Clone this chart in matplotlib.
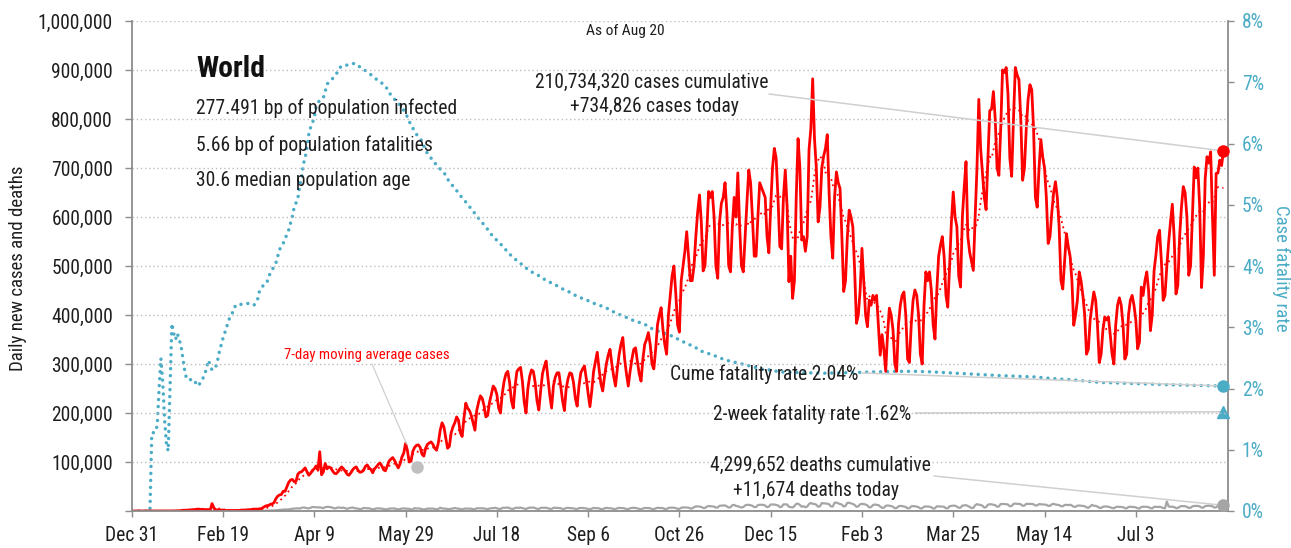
import numpy as np
import pandas as pd
import matplotlib
matplotlib.use("Agg")
import matplotlib.pyplot as plt
from matplotlib import font_manager

# daily new cases (thousands), day 0 = Dec 31 2019, one row per week (Tue..Mon)
cases_k = [
    0.03, 0, 0, 0, 0, 0, 0,
    0, 0, 0, 0, 0.02, 0, 0,
    0, 0, 0.01, 0.02, 0.02, 0.08, 0.08,
    0.15, 0.15, 0.1, 0.3, 0.5, 0.7, 0.8,
    1.5, 1.5, 1.7, 2.0, 2.1, 2.6, 2.8,
    3.2, 3.9, 3.7, 3.2, 3.4, 2.7, 3.0,
    2.5, 2.0, 15.1, 6.5, 2.6, 2.1, 2.0,
    1.9, 1.8, 0.9, 1.1, 1.0, 1.0, 0.6,
    0.9, 1.0, 1.2, 1.1, 1.9, 1.8, 1.9,
    2.4, 2.6, 2.8, 3.5, 3.9, 3.7, 3.9,
    4.5, 4.9, 7.1, 9.5, 11.0, 11.3, 13.8,
    14.6, 17.2, 25.4, 30.3, 32.8, 33.8, 40.3,
    40.1, 49.5, 58.5, 63.2, 64.4, 59.9, 60.5,
    75, 79, 80, 84, 88, 80, 73,
    77, 83, 86, 92, 84, 121, 74,
    80, 97, 86, 90, 88, 82, 77,
    76, 80, 86, 90, 86, 81, 75,
    73, 78, 84, 88, 90, 83, 79,
    80, 83, 91, 94, 88, 85, 78,
    86, 90, 95, 98, 92, 84, 82,
    92, 102, 106, 109, 103, 95, 88,
    96, 110, 118, 138, 124, 100, 102,
    122, 130, 134, 135, 130, 116, 112,
    128, 136, 139, 141, 136, 128, 124,
    140, 165, 180, 172, 150, 128, 132,
    160, 172, 180, 192, 185, 160, 152,
    190, 220, 210, 205, 195, 180, 165,
    205, 222, 235, 230, 215, 192, 195,
    222, 238, 255, 250, 238, 210, 200,
    240, 265, 280, 285, 262, 225, 210,
    255, 285, 290, 293, 265, 222, 200,
    250, 275, 288, 285, 262, 225, 206,
    245, 280, 295, 306, 270, 236, 210,
    255, 273, 282, 282, 255, 225, 205,
    250, 270, 282, 280, 262, 230, 214,
    255, 282, 290, 296, 270, 240, 213,
    245, 285, 305, 324, 290, 260, 245,
    275, 300, 318, 330, 300, 275, 255,
    290, 320, 340, 354, 310, 280, 255,
    285, 310, 330, 333, 305, 280, 265,
    310, 340, 350, 364, 340, 300, 290,
    330, 380, 400, 415, 370, 340, 320,
    400, 440, 480, 500, 445, 380, 365,
    470, 500, 530, 570, 520, 470, 470,
    500, 560, 610, 645, 590, 490, 500,
    570, 652, 640, 652, 600, 500, 475,
    590, 628, 640, 670, 610, 500, 488,
    580, 640, 600, 690, 580, 500, 488,
    560, 630, 696, 670, 600, 520, 520,
    600, 670, 660, 650, 640, 560, 527,
    620, 700, 740, 720, 640, 540, 535,
    640, 696, 620, 468, 520, 434, 470,
    640, 760, 700, 553, 560, 530, 560,
    737, 780, 882, 760, 700, 590, 620,
    700, 724, 740, 768, 650, 560, 516,
    640, 692, 670, 658, 560, 448, 470,
    560, 614, 600, 580, 490, 383, 400,
    450, 536, 470, 400, 376, 430, 420,
    440, 430, 440, 380, 318, 360, 330,
    285, 360, 414, 400, 370, 300, 285,
    380, 420, 440, 447, 400, 310, 303,
    380, 430, 451, 440, 400, 320, 300,
    420, 488, 470, 488, 450, 380, 351,
    450, 520, 542, 560, 520, 440, 416,
    500, 590, 651, 600, 580, 480, 457,
    600, 660, 713, 560, 528, 510, 491,
    600, 700, 840, 740, 689, 640, 615,
    720, 817, 820, 856, 800, 700, 685,
    780, 900, 895, 905, 850, 720, 683,
    800, 905, 890, 880, 800, 675, 700,
    780, 840, 870, 860, 780, 640, 620,
    700, 758, 723, 700, 640, 546, 560,
    610, 650, 672, 640, 580, 470, 453,
    510, 566, 540, 520, 470, 379, 400,
    430, 488, 470, 440, 400, 320, 330,
    390, 420, 447, 430, 380, 303, 320,
    370, 396, 390, 396, 360, 320, 300,
    380, 420, 435, 420, 380, 310, 320,
    400, 430, 440, 420, 390, 331, 345,
    457, 440, 470, 488, 450, 368, 400,
    490, 522, 560, 573, 510, 430, 440,
    500, 549, 590, 626, 560, 443, 460,
    560, 620, 662, 650, 600, 481, 500,
    600, 702, 680, 700, 620, 456, 520,
    678, 723, 710, 733, 600, 481, 689,
    690, 716, 705, 734.826,
]

# daily new deaths (thousands), same layout
deaths_k = [
    0, 0, 0, 0, 0, 0, 0,
    0, 0, 0, 0, 0.001, 0, 0,
    0, 0, 0, 0, 0, 0.001, 0.001,
    0.003, 0.003, 0.008, 0.01, 0.015, 0.02, 0.025,
    0.025, 0.038, 0.043, 0.046, 0.045, 0.058, 0.064,
    0.066, 0.073, 0.073, 0.086, 0.089, 0.097, 0.108,
    0.097, 0.254, 0.013, 0.143, 0.142, 0.106, 0.098,
    0.139, 0.115, 0.125, 0.009, 0.207, 0.097, 0.150,
    0.071, 0.064, 0.037, 0.041, 0.060, 0.048, 0.045,
    0.07, 0.08, 0.1, 0.1, 0.1, 0.2, 0.22,
    0.3, 0.35, 0.4, 0.5, 0.6, 0.8, 0.9,
    1.0, 1.1, 1.5, 1.9, 2.3, 2.5, 2.8,
    3.1, 3.0, 3.4, 3.9, 4.6, 4.9, 5.0,
    5.5, 5.0, 6.4, 7.2, 6.8, 5.6, 5.5,
    6.6, 8.3, 7.8, 7.7, 7.2, 7.4, 6.7,
    5.7, 7.9, 8.4, 8.4, 7.6, 6.8, 5.2,
    5.9, 7.2, 6.9, 6.3, 6.9, 5.6, 4.3,
    5.8, 6.4, 7.2, 5.8, 5.4, 4.8, 3.8,
    4.3, 6.2, 5.8, 5.6, 5.6, 4.4, 3.6,
    3.8, 5.4, 5.4, 5.2, 4.9, 4.2, 3.4,
    3.7, 4.7, 5.2, 5.2, 5.2, 4.0, 3.3,
    4.0, 5.0, 5.3, 4.8, 4.8, 4.3, 3.1,
    3.5, 5.9, 5.0, 5.4, 4.8, 3.8, 3.2,
    3.8, 4.8, 5.0, 4.8, 5.0, 4.1, 3.3,
    4.4, 6.7, 5.2, 5.1, 4.8, 4.0, 3.7,
    4.6, 5.1, 6.2, 5.2, 4.8, 4.0, 3.3,
    4.5, 5.1, 4.8, 4.9, 4.6, 3.9, 3.6,
    5.6, 5.6, 5.5, 5.4, 5.4, 4.2, 3.7,
    5.1, 5.6, 5.8, 6.6, 5.4, 4.4, 4.0,
    6.3, 6.8, 6.5, 7.1, 5.6, 4.6, 4.2,
    6.3, 6.7, 6.3, 6.9, 6.0, 4.9, 4.0,
    5.9, 7.0, 6.6, 7.2, 5.9, 4.6, 4.2,
    6.2, 6.7, 6.4, 6.7, 5.6, 4.5, 4.0,
    6.6, 6.6, 6.2, 5.9, 5.7, 4.3, 4.2,
    6.3, 6.3, 6.0, 5.7, 5.4, 4.2, 4.0,
    5.8, 6.3, 6.0, 5.8, 5.1, 4.4, 3.5,
    4.9, 6.2, 6.0, 6.0, 5.4, 4.0, 3.9,
    5.3, 6.4, 5.8, 5.6, 5.4, 4.0, 4.0,
    5.6, 6.4, 6.0, 5.9, 5.4, 3.9, 3.8,
    5.6, 6.3, 6.6, 6.1, 5.4, 4.1, 3.6,
    5.1, 6.1, 6.1, 6.1, 5.5, 4.0, 3.6,
    5.5, 6.5, 6.2, 6.0, 5.8, 4.1, 4.1,
    6.2, 6.8, 6.7, 6.7, 6.0, 4.3, 4.3,
    6.6, 7.4, 7.3, 7.4, 6.9, 5.0, 5.1,
    7.9, 9.3, 9.3, 9.2, 8.2, 6.2, 6.0,
    9.0, 10.1, 9.8, 9.6, 9.0, 6.7, 7.3,
    10.6, 11.0, 11.1, 11.3, 9.4, 7.2, 7.6,
    11.8, 12.5, 10.4, 9.7, 8.3, 7.2, 8.0,
    11.3, 12.7, 12.4, 11.8, 10.6, 7.9, 8.2,
    11.9, 12.7, 12.7, 12.4, 11.1, 7.9, 8.8,
    13.4, 13.0, 13.4, 12.1, 11.5, 7.9, 8.5,
    13.6, 13.6, 13.4, 8.6, 7.9, 7.1, 10.0,
    14.6, 15.0, 12.3, 8.7, 9.7, 7.6, 9.0,
    14.3, 16.3, 14.7, 14.4, 12.9, 8.6, 9.7,
    16.1, 15.6, 15.3, 14.9, 13.8, 9.4, 9.1,
    16.8, 17.3, 15.5, 14.2, 13.1, 9.1, 10.5,
    16.7, 16.8, 15.5, 14.4, 12.4, 8.5, 9.5,
    13.8, 14.6, 14.1, 13.2, 11.3, 7.4, 7.9,
    12.0, 13.3, 12.5, 12.1, 9.1, 6.4, 6.6,
    10.6, 11.3, 10.8, 10.0, 8.8, 5.6, 6.1,
    9.4, 10.4, 10.1, 9.2, 8.2, 5.4, 5.7,
    9.5, 10.0, 9.6, 9.0, 7.8, 5.2, 5.5,
    8.8, 9.3, 9.0, 8.8, 7.6, 5.0, 5.5,
    9.6, 9.4, 9.3, 9.0, 8.5, 5.5, 5.5,
    9.7, 10.3, 10.9, 10.8, 9.0, 6.5, 6.8,
    11.0, 11.5, 11.9, 10.2, 8.1, 6.2, 6.3,
    11.6, 14.1, 12.9, 12.3, 10.8, 7.0, 7.8,
    13.0, 13.7, 13.6, 12.6, 12.0, 8.7, 9.3,
    14.3, 14.4, 14.2, 13.9, 13.1, 9.6, 10.3,
    14.4, 15.1, 14.5, 14.7, 13.7, 10.5, 11.1,
    14.6, 14.6, 14.4, 14.3, 13.8, 11.2, 11.6,
    14.1, 13.7, 13.3, 13.1, 12.6, 10.6, 10.5,
    13.7, 14.5, 13.3, 12.6, 11.9, 10.1, 9.4,
    12.4, 12.5, 12.1, 12.7, 11.2, 8.7, 8.5,
    10.9, 11.2, 10.7, 10.4, 9.8, 7.4, 6.4,
    9.5, 12.5, 10.6, 10.5, 9.0, 6.8, 6.1,
    8.6, 9.2, 9.1, 8.6, 7.6, 6.0, 5.6,
    7.9, 8.7, 8.3, 8.3, 7.7, 5.9, 5.4,
    8.2, 8.7, 8.2, 8.2, 7.3, 5.6, 5.1,
    8.1, 8.7, 8.6, 8.5, 7.8, 5.8, 5.3,
    8.4, 8.6, 8.1, 8.6, 7.8, 5.9, 5.6,
    19.5, 9.2, 8.7, 8.7, 8.0, 6.0, 6.0,
    8.8, 10.0, 9.9, 9.8, 8.5, 6.4, 6.5,
    9.5, 10.2, 10.4, 10.3, 9.4, 6.9, 6.9,
    10.0, 10.5, 10.9, 10.5, 9.6, 7.0, 7.5,
    11.2, 11.4, 11.0, 11.674,
]

# cumulative case fatality rate (%)
cfr_day = [0, 4, 7, 10, 11, 13, 14, 15, 16, 17, 18, 19, 20, 21, 22, 23, 24, 25, 26, 27,
           28, 29, 30, 31, 34, 36, 38, 40, 41, 42, 44, 46, 47, 48, 50, 52, 53, 55, 56, 58,
           61, 64, 67, 69, 70, 72, 74, 75, 77, 79, 81, 83, 86, 87, 88, 89, 91, 92, 93, 94,
           95, 96, 97, 98, 100, 101, 103, 105, 106, 107, 110, 112, 114, 116, 119, 122, 125, 127, 130, 133,
           136, 139, 141, 144, 147, 150, 152, 154, 156, 159, 161, 165, 168, 171, 173, 175, 178, 180, 184, 186,
           189, 191, 194, 196, 198, 201, 204, 206, 209, 212, 215, 217, 221, 224, 227, 231, 234, 237, 241, 244,
           248, 251, 254, 258, 261, 264, 267, 271, 274, 278, 281, 284, 288, 291, 295, 298, 300, 304, 308, 311,
           315, 319, 322, 326, 330, 333, 337, 341, 344, 348, 352, 355, 365, 380, 395, 405, 421, 430, 439, 458,
           476, 494, 505, 516, 530, 550, 570, 585, 598]
cfr_pct = [0, 0, 0, 0, 1.27, 1.29, 1.4, 2.0, 2.49, 2.1, 1.5, 1.1, 0.98, 2.0, 3.06, 2.9, 2.8, 2.9, 2.8, 2.7,
           2.5, 2.3, 2.16, 2.14, 2.15, 2.04, 2.1, 2.23, 2.33, 2.46, 2.3, 2.35, 2.45, 2.6, 2.82, 3.0, 3.11, 3.22, 3.32, 3.38,
           3.37, 3.39, 3.36, 3.46, 3.59, 3.68, 3.72, 3.83, 3.94, 4.05, 4.27, 4.37, 4.59, 4.70, 4.81, 4.96, 5.10, 5.31, 5.44, 5.66,
           5.77, 5.93, 6.15, 6.26, 6.42, 6.61, 6.71, 6.75, 6.85, 6.97, 7.06, 7.13, 7.24, 7.28, 7.28, 7.31, 7.25, 7.21, 7.15, 7.07,
           7.01, 6.94, 6.83, 6.72, 6.63, 6.50, 6.36, 6.25, 6.15, 6.04, 5.88, 5.72, 5.61, 5.53, 5.42, 5.34, 5.23, 5.15, 5.01, 4.93,
           4.82, 4.74, 4.64, 4.55, 4.48, 4.39, 4.30, 4.22, 4.14, 4.06, 4.00, 3.94, 3.87, 3.83, 3.76, 3.71, 3.66, 3.61, 3.56, 3.50,
           3.46, 3.42, 3.38, 3.34, 3.30, 3.25, 3.21, 3.16, 3.12, 3.08, 3.05, 2.99, 2.94, 2.91, 2.87, 2.82, 2.80, 2.73, 2.69, 2.62,
           2.58, 2.54, 2.50, 2.46, 2.43, 2.41, 2.38, 2.35, 2.32, 2.31, 2.29, 2.27, 2.26, 2.25, 2.26, 2.27, 2.28, 2.28, 2.27, 2.24,
           2.21, 2.19, 2.16, 2.14, 2.10, 2.08, 2.06, 2.05, 2.04]

two_week_cfr_pct = 1.62
ma_note_day, ma_note_cases = 156, 90000

x_tick_days = [0, 50, 100, 150, 200, 250, 300, 350, 400, 450, 500, 550]
x_tick_labels = ["Dec 31", "Feb 19", "Apr 9", "May 29", "Jul 18", "Sep 6",
                 "Oct 26", "Dec 15", "Feb 3", "Mar 25", "May 14", "Jul 3"]

info_lines = ["277.491 bp of population infected",
              "5.66 bp of population fatalities",
              "30.6 median population age"]

# pick a narrow font if one is installed
fonts = font_manager.fontManager.ttflist
names = {f.name for f in fonts}
if "Liberation Sans Narrow" in names:
    FONT, STRETCH, K = "Liberation Sans Narrow", "normal", 1.0
elif "Roboto Condensed" in names:
    FONT, STRETCH, K = "Roboto Condensed", "normal", 0.97
elif "DejaVu Sans Condensed" in names:
    FONT, STRETCH, K = "DejaVu Sans Condensed", "normal", 0.82
elif any(f.name == "DejaVu Sans" and f.stretch == "condensed" for f in fonts):
    FONT, STRETCH, K = "DejaVu Sans", "condensed", 0.82
else:
    FONT, STRETCH, K = "DejaVu Sans", "normal", 0.75
plt.rcParams["font.family"] = FONT
plt.rcParams["font.stretch"] = STRETCH

RED = "#FF0000"
BLUE = "#4BACC6"
GRAY = "#A5A5A5"
SPINE = "#8C8C8C"
LEADER = "#CFCFCF"
TXT = "#1E1E1E"
FS = 14.5 * K

W, H = 1291, 548


def fpx(x, y):
    # pixel position (from top-left) -> figure fraction
    return (x / W, 1 - y / H)


cases = np.array(cases_k) * 1000
deaths = np.array(deaths_k) * 1000
days = np.arange(len(cases))
cases_ma = pd.Series(cases).rolling(7).mean()

fig = plt.figure(figsize=(W / 100, H / 100), dpi=100)
ax = fig.add_axes([131.7 / W, 1 - 511 / H, (1228 - 131.7) / W, (511 - 21) / H])
ax2 = ax.twinx()
ax.set_zorder(ax2.get_zorder() + 1)
ax.patch.set_visible(False)

ax2.plot(cfr_day, np.array(cfr_pct) / 100, color=BLUE, lw=2.5,
         linestyle=(0, (0.01, 2.0)), dash_capstyle="round")
ax.plot(days, deaths, color=GRAY, lw=1.6)
ax.plot(days, cases_ma, color=RED, lw=1.3, linestyle=(0, (1, 2.0)))
ax.plot(days, cases, color=RED, lw=2.0, solid_joinstyle="round")

ax.set_xlim(0, 600.5)
ax.set_ylim(0, 1_000_000)
ax2.set_ylim(0, 0.08)

ax.yaxis.grid(True, color="#BDBDBD", linestyle=(0, (1, 2)), lw=1)
ax.set_axisbelow(True)

yt = np.arange(0, 1_000_001, 100_000)
ax.set_yticks(yt)
ax.set_yticklabels(["" if v == 0 else f"{v:,}" for v in yt], fontsize=FS, color=TXT)
ax.set_xticks(x_tick_days)
ax.set_xticklabels(x_tick_labels, fontsize=FS, color=TXT)
ax.tick_params(axis="x", length=4.5, width=1, color=SPINE, pad=6)
ax.tick_params(axis="y", length=5, width=1, color=SPINE, pad=8.5)

rt = np.arange(0, 0.081, 0.01)
ax2.set_yticks(rt)
ax2.set_yticklabels([f"{i}%" for i in range(len(rt))], fontsize=FS, color=BLUE)
ax2.tick_params(axis="y", length=4, width=1, color=SPINE, pad=6)

for s in ["top", "right"]:
    ax.spines[s].set_visible(False)
for s in ["top", "left", "bottom"]:
    ax2.spines[s].set_visible(False)
for sp in [ax.spines["left"], ax.spines["bottom"], ax2.spines["right"]]:
    sp.set_color(SPINE)
    sp.set_linewidth(1.3)

# end-point markers
last = days[-1]
ax.plot(last, cases[-1], "o", color=RED, ms=8, clip_on=False, zorder=5)
ax.plot(last, deaths[-1], "o", color=GRAY, ms=8, clip_on=False, zorder=5)
ax2.plot(last, cfr_pct[-1] / 100, "o", color=BLUE, ms=8, clip_on=False, zorder=5)
ax2.plot(last, two_week_cfr_pct / 100, "^", color=BLUE, ms=8, clip_on=False, zorder=5)
ax.plot(ma_note_day, ma_note_cases, "o", color="#BFBFBF", ms=8, zorder=4)

# leader lines
lead = dict(arrowstyle="-", color=LEADER, lw=1.1, shrinkA=0, shrinkB=0)
ax.annotate("", xy=(last, cases[-1]), xytext=fpx(769, 94), textcoords="figure fraction",
            arrowprops=lead, annotation_clip=False)
ax2.annotate("", xy=(last, cfr_pct[-1] / 100), xytext=fpx(862, 373), textcoords="figure fraction",
             arrowprops=lead, annotation_clip=False)
ax2.annotate("", xy=(last, two_week_cfr_pct / 100), xytext=fpx(915, 413), textcoords="figure fraction",
             arrowprops=lead, annotation_clip=False)
ax.annotate("", xy=(last, deaths[-1]), xytext=fpx(934, 476), textcoords="figure fraction",
            arrowprops=lead, annotation_clip=False)
ax.annotate("", xy=(ma_note_day, ma_note_cases), xytext=fpx(372, 364), textcoords="figure fraction",
            arrowprops=dict(arrowstyle="-", color=LEADER, lw=0.9, shrinkA=0, shrinkB=18),
            annotation_clip=False)

# texts
fig.text(*fpx(625, 31), "As of Aug 20", fontsize=11.5 * K, color=TXT, ha="center", va="center")
fig.text(*fpx(196, 69), "World", fontsize=22 * K, fontweight="bold", color="#111111",
         ha="left", va="center")
for line, y in zip(info_lines, [108, 145, 181]):
    fig.text(*fpx(196, y), line, fontsize=FS, color=TXT, ha="left", va="center")
fig.text(*fpx(652, 82), "210,734,320 cases cumulative", fontsize=FS, color=TXT, ha="center", va="center")
fig.text(*fpx(654, 107), "+734,826 cases today", fontsize=FS, color=TXT, ha="center", va="center")
fig.text(*fpx(858, 374), "Cume fatality rate 2.04%", fontsize=FS, color=TXT, ha="right", va="center")
fig.text(*fpx(911, 414), "2-week fatality rate 1.62%", fontsize=FS, color=TXT, ha="right", va="center")
fig.text(*fpx(820, 465), "4,299,652 deaths cumulative", fontsize=FS, color=TXT, ha="center", va="center")
fig.text(*fpx(816, 490), "+11,674 deaths today", fontsize=FS, color=TXT, ha="center", va="center")
fig.text(*fpx(367, 355), "7-day moving average cases", fontsize=11 * K, color=RED, ha="center", va="center")

fig.text(*fpx(18, 268), "Daily new cases and deaths", fontsize=14 * K, color=TXT,
         rotation=90, ha="center", va="center")
fig.text(*fpx(1281, 268), "Case fatality rate", fontsize=14 * K, color=BLUE,
         rotation=270, ha="center", va="center")

fig.savefig("out.png", dpi=100)
